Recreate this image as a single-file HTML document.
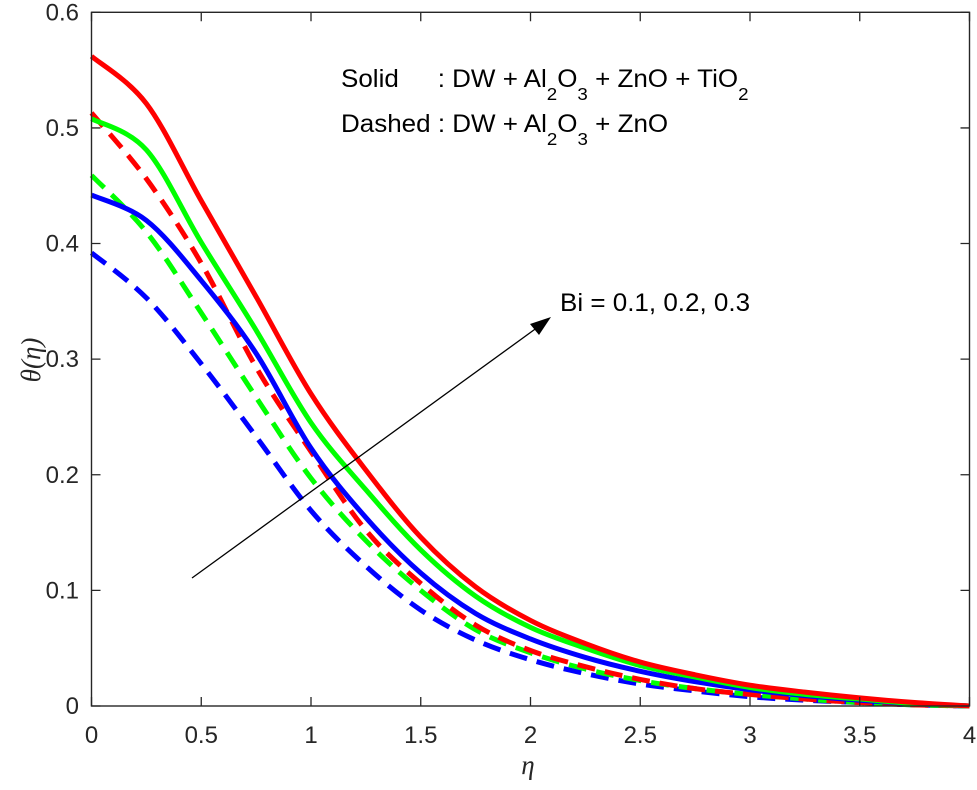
<!DOCTYPE html>
<html><head><meta charset="utf-8"><style>
body{margin:0;background:#fff}
svg{display:block;font-family:"Liberation Sans",sans-serif}
</style></head><body>
<svg id="chart" width="977" height="790">
<rect x="0" y="0" width="977" height="790" fill="#fff"/>
<g id="series"></g>
<rect x="91.5" y="12.3" width="878" height="693.7" fill="none" stroke="#262626" stroke-width="1.4"/>
<g id="ticks" fill="#262626" font-size="24"></g>
<text x="528" y="774" font-family="Liberation Serif,serif" font-style="italic" font-size="27" text-anchor="middle" fill="#262626">η</text>
<text transform="translate(40,360) rotate(-90)" font-family="Liberation Serif,serif" font-style="italic" font-size="27" text-anchor="middle" fill="#262626">θ(η)</text>
<g font-size="25" fill="#000" transform="translate(341,0) scale(1.04,1)">
<text x="0" y="87">Solid<tspan x="93">: DW + Al</tspan><tspan font-size="18" dy="13">2</tspan><tspan dy="-13">O</tspan><tspan font-size="18" dy="13">3</tspan><tspan dy="-13"> + ZnO + TiO</tspan><tspan font-size="18" dy="13">2</tspan></text>
<text x="0" y="132">Dashed : DW + Al<tspan font-size="18" dy="13">2</tspan><tspan dy="-13">O</tspan><tspan font-size="18" dy="13">3</tspan><tspan dy="-13"> + ZnO</tspan></text>
</g>
<line x1="192" y1="578" x2="538" y2="327" stroke="#000" stroke-width="1.3"/>
<polygon points="551,317 530,324 539,335" fill="#000"/>
<text x="0" y="311" font-size="25" fill="#000" transform="translate(560,0) scale(1.04,1)">Bi = 0.1, 0.2, 0.3</text>
</svg>
<script>
const etaValues=[0,0.25,0.5,0.75,1,1.25,1.5,1.75,2,2.25,2.5,2.75,3,3.25,3.5,3.75,4];
const redSolid=[0.562,0.521,0.437,0.354,0.27,0.204,0.146,0.103,0.074,0.054,0.038,0.027,0.018,0.012,0.007,0.003,0];
const greenSolid=[0.508,0.481,0.401,0.325,0.245,0.187,0.135,0.095,0.068,0.05,0.035,0.025,0.016,0.01,0.006,0.002,0];
const blueSolid=[0.442,0.42,0.368,0.305,0.223,0.163,0.115,0.08,0.058,0.042,0.03,0.021,0.014,0.009,0.005,0.002,0];
const redDashed=[0.513,0.456,0.383,0.293,0.22,0.152,0.106,0.07,0.048,0.034,0.023,0.015,0.01,0.006,0.003,0.001,0];
const greenDashed=[0.459,0.41,0.34,0.267,0.197,0.143,0.1,0.066,0.046,0.032,0.022,0.015,0.01,0.006,0.003,0.001,0];
const blueDashed=[0.392,0.353,0.296,0.233,0.169,0.121,0.083,0.057,0.04,0.028,0.019,0.013,0.008,0.005,0.003,0.001,0];
const xTicks=[0,0.5,1,1.5,2,2.5,3,3.5,4];
const yTicks=[0,0.1,0.2,0.3,0.4,0.5,0.6];
const X0=91.5,X1=969.5,Y0=706,Y1=12.3;
function sx(v){return X0+(v-0)/(4-0)*(X1-X0);}
function sy(v){return Y0-(v-0)/(0.6-0)*(Y0-Y1);}
const NS='http://www.w3.org/2000/svg';
const tg=document.getElementById('ticks');
xTicks.forEach(t=>{
  const x=sx(t);
  const l1=document.createElementNS(NS,'path');
  l1.setAttribute('d',`M${x},${Y0}v-9M${x},${Y1}v9`);
  l1.setAttribute('stroke','#262626');l1.setAttribute('stroke-width','1.3');
  
  
  tg.appendChild(l1);
  const tx=document.createElementNS(NS,'text');
  tx.setAttribute('x',x);tx.setAttribute('y',743);tx.setAttribute('text-anchor','middle');
  tx.textContent=String(t);
  
  
  tg.appendChild(tx);
});
yTicks.forEach(t=>{
  const y=sy(t);
  const l1=document.createElementNS(NS,'path');
  l1.setAttribute('d',`M${X0},${y}h9M${X1},${y}h-9`);
  l1.setAttribute('stroke','#262626');l1.setAttribute('stroke-width','1.3');
  
  
  tg.appendChild(l1);
  const tx=document.createElementNS(NS,'text');
  tx.setAttribute('x',79);tx.setAttribute('y',y+8);tx.setAttribute('text-anchor','end');
  tx.textContent=t===0?'0':t.toFixed(1);
  
  
  tg.appendChild(tx);
});
function pathFor(vals){
  const p=etaValues.map((e,i)=>[sx(e),sy(vals[i])]);
  let d=`M${p[0][0]},${p[0][1]}`;
  for(let i=0;i<p.length-1;i++){
    const a=p[Math.max(i-1,0)],b=p[i],c=p[i+1],e=p[Math.min(i+2,p.length-1)];
    const c1=[b[0]+(c[0]-a[0])/6,b[1]+(c[1]-a[1])/6];
    const c2=[c[0]-(e[0]-b[0])/6,c[1]-(e[1]-b[1])/6];
    d+=`C${c1[0]},${c1[1]} ${c2[0]},${c2[1]} ${c[0]},${c[1]}`;
  }
  return d;
}
const sg=document.getElementById('series');
function addSeries(vals,color,dashed,name){
  const p=document.createElementNS(NS,'path');
  p.setAttribute('d',pathFor(vals));
  p.setAttribute('fill','none');p.setAttribute('stroke',color);p.setAttribute('stroke-width','5');
  if(dashed)p.setAttribute('stroke-dasharray','18 10');
  
  
  sg.appendChild(p);
}
addSeries(blueDashed,'#0000ff',true,'blue-dashed-line');
addSeries(greenDashed,'#00ff00',true,'green-dashed-line');
addSeries(redDashed,'#ff0000',true,'red-dashed-line');
addSeries(blueSolid,'#0000ff',false,'blue-solid-line');
addSeries(greenSolid,'#00ff00',false,'green-solid-line');
addSeries(redSolid,'#ff0000',false,'red-solid-line');
</script>
</body></html>
